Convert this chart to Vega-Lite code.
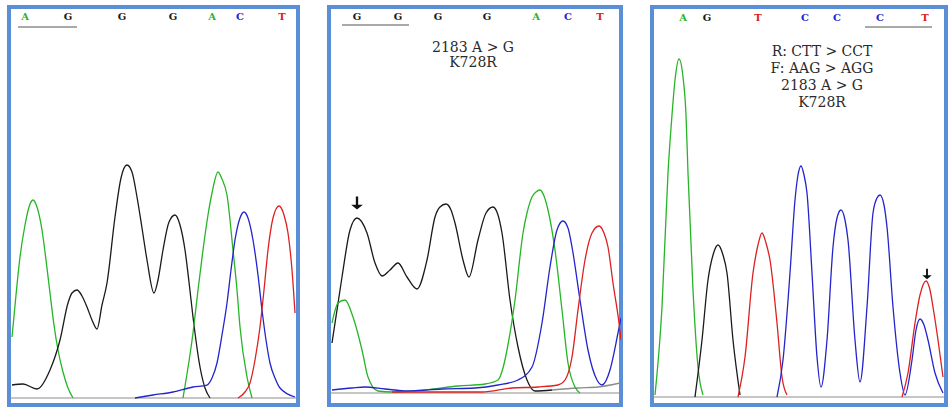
{
"$schema":"https://vega.github.io/schema/vega-lite/v6.json",
"background":"white",
"padding":{"left":6,"top":5,"right":0,"bottom":0},
"spacing":25,
"config":{"view":{"stroke":"#5a8fd8","strokeWidth":4},"concat":{"spacing":25}},
"datasets":{
"baselines":[{"panel":1,"sig":7},{"panel":2,"sig":12},{"panel":3,"sig":8}],
"traces":[
{"panel":1,"trace":"A1","base":"A","pos":3,"sig":68},{"panel":1,"trace":"A1","base":"A","pos":7,"sig":110},{"panel":1,"trace":"A1","base":"A","pos":11,"sig":148},{"panel":1,"trace":"A1","base":"A","pos":16,"sig":180},{"panel":1,"trace":"A1","base":"A","pos":20,"sig":198},{"panel":1,"trace":"A1","base":"A","pos":24,"sig":205},{"panel":1,"trace":"A1","base":"A","pos":28,"sig":198},{"panel":1,"trace":"A1","base":"A","pos":33,"sig":175},{"panel":1,"trace":"A1","base":"A","pos":37,"sig":145},{"panel":1,"trace":"A1","base":"A","pos":41,"sig":112},{"panel":1,"trace":"A1","base":"A","pos":45,"sig":80},{"panel":1,"trace":"A1","base":"A","pos":49,"sig":55},{"panel":1,"trace":"A1","base":"A","pos":54,"sig":33},{"panel":1,"trace":"A1","base":"A","pos":59,"sig":17},{"panel":1,"trace":"A1","base":"A","pos":64,"sig":7},
{"panel":1,"trace":"G1","base":"G","pos":3,"sig":20},{"panel":1,"trace":"G1","base":"G","pos":14,"sig":21},{"panel":1,"trace":"G1","base":"G","pos":28,"sig":16},{"panel":1,"trace":"G1","base":"G","pos":41,"sig":35},{"panel":1,"trace":"G1","base":"G","pos":51,"sig":65},{"panel":1,"trace":"G1","base":"G","pos":59,"sig":102},{"panel":1,"trace":"G1","base":"G","pos":63,"sig":112},{"panel":1,"trace":"G1","base":"G","pos":68,"sig":115},{"panel":1,"trace":"G1","base":"G","pos":73,"sig":109},{"panel":1,"trace":"G1","base":"G","pos":78,"sig":98},{"panel":1,"trace":"G1","base":"G","pos":83,"sig":85},{"panel":1,"trace":"G1","base":"G","pos":88,"sig":76},{"panel":1,"trace":"G1","base":"G","pos":93,"sig":100},{"panel":1,"trace":"G1","base":"G","pos":98,"sig":122},{"panel":1,"trace":"G1","base":"G","pos":106,"sig":188},{"panel":1,"trace":"G1","base":"G","pos":112,"sig":227},{"panel":1,"trace":"G1","base":"G","pos":118,"sig":240},{"panel":1,"trace":"G1","base":"G","pos":123,"sig":233},{"panel":1,"trace":"G1","base":"G","pos":128,"sig":208},{"panel":1,"trace":"G1","base":"G","pos":133,"sig":177},{"panel":1,"trace":"G1","base":"G","pos":138,"sig":145},{"panel":1,"trace":"G1","base":"G","pos":145,"sig":112},{"panel":1,"trace":"G1","base":"G","pos":149,"sig":125},{"panel":1,"trace":"G1","base":"G","pos":154,"sig":155},{"panel":1,"trace":"G1","base":"G","pos":160,"sig":183},{"panel":1,"trace":"G1","base":"G","pos":166,"sig":190},{"panel":1,"trace":"G1","base":"G","pos":171,"sig":180},{"panel":1,"trace":"G1","base":"G","pos":176,"sig":155},{"panel":1,"trace":"G1","base":"G","pos":180,"sig":123},{"panel":1,"trace":"G1","base":"G","pos":184,"sig":88},{"panel":1,"trace":"G1","base":"G","pos":191,"sig":38},{"panel":1,"trace":"G1","base":"G","pos":196,"sig":17},{"panel":1,"trace":"G1","base":"G","pos":201,"sig":7},
{"panel":1,"trace":"A2","base":"A","pos":174,"sig":7},{"panel":1,"trace":"A2","base":"A","pos":184,"sig":72},{"panel":1,"trace":"A2","base":"A","pos":189,"sig":115},{"panel":1,"trace":"A2","base":"A","pos":194,"sig":155},{"panel":1,"trace":"A2","base":"A","pos":199,"sig":190},{"panel":1,"trace":"A2","base":"A","pos":203,"sig":212},{"panel":1,"trace":"A2","base":"A","pos":209,"sig":233},{"panel":1,"trace":"A2","base":"A","pos":213,"sig":226},{"panel":1,"trace":"A2","base":"A","pos":218,"sig":210},{"panel":1,"trace":"A2","base":"A","pos":224,"sig":155},{"panel":1,"trace":"A2","base":"A","pos":228,"sig":115},{"panel":1,"trace":"A2","base":"A","pos":231,"sig":78},{"panel":1,"trace":"A2","base":"A","pos":238,"sig":28},{"panel":1,"trace":"A2","base":"A","pos":243,"sig":7},
{"panel":1,"trace":"C1","base":"C","pos":126,"sig":7},{"panel":1,"trace":"C1","base":"C","pos":144,"sig":10},{"panel":1,"trace":"C1","base":"C","pos":164,"sig":13},{"panel":1,"trace":"C1","base":"C","pos":184,"sig":18},{"panel":1,"trace":"C1","base":"C","pos":198,"sig":20},{"panel":1,"trace":"C1","base":"C","pos":203,"sig":27},{"panel":1,"trace":"C1","base":"C","pos":208,"sig":42},{"panel":1,"trace":"C1","base":"C","pos":213,"sig":70},{"panel":1,"trace":"C1","base":"C","pos":218,"sig":102},{"panel":1,"trace":"C1","base":"C","pos":222,"sig":135},{"panel":1,"trace":"C1","base":"C","pos":226,"sig":165},{"panel":1,"trace":"C1","base":"C","pos":231,"sig":187},{"panel":1,"trace":"C1","base":"C","pos":235,"sig":193},{"panel":1,"trace":"C1","base":"C","pos":239,"sig":187},{"panel":1,"trace":"C1","base":"C","pos":244,"sig":165},{"panel":1,"trace":"C1","base":"C","pos":249,"sig":130},{"panel":1,"trace":"C1","base":"C","pos":253,"sig":95},{"panel":1,"trace":"C1","base":"C","pos":257,"sig":65},{"panel":1,"trace":"C1","base":"C","pos":261,"sig":42},{"panel":1,"trace":"C1","base":"C","pos":266,"sig":27},{"panel":1,"trace":"C1","base":"C","pos":271,"sig":17},{"panel":1,"trace":"C1","base":"C","pos":286,"sig":8},
{"panel":1,"trace":"T1","base":"T","pos":229,"sig":7},{"panel":1,"trace":"T1","base":"T","pos":236,"sig":13},{"panel":1,"trace":"T1","base":"T","pos":241,"sig":22},{"panel":1,"trace":"T1","base":"T","pos":246,"sig":45},{"panel":1,"trace":"T1","base":"T","pos":251,"sig":78},{"panel":1,"trace":"T1","base":"T","pos":255,"sig":115},{"panel":1,"trace":"T1","base":"T","pos":259,"sig":155},{"panel":1,"trace":"T1","base":"T","pos":264,"sig":187},{"panel":1,"trace":"T1","base":"T","pos":270,"sig":199},{"panel":1,"trace":"T1","base":"T","pos":275,"sig":190},{"panel":1,"trace":"T1","base":"T","pos":279,"sig":172},{"panel":1,"trace":"T1","base":"T","pos":283,"sig":135},{"panel":1,"trace":"T1","base":"T","pos":286,"sig":92},
{"panel":2,"trace":"G1","base":"G","pos":3,"sig":62},{"panel":2,"trace":"G1","base":"G","pos":13,"sig":128},{"panel":2,"trace":"G1","base":"G","pos":21,"sig":175},{"panel":2,"trace":"G1","base":"G","pos":28,"sig":187},{"panel":2,"trace":"G1","base":"G","pos":38,"sig":172},{"panel":2,"trace":"G1","base":"G","pos":46,"sig":142},{"panel":2,"trace":"G1","base":"G","pos":53,"sig":129},{"panel":2,"trace":"G1","base":"G","pos":61,"sig":135},{"panel":2,"trace":"G1","base":"G","pos":69,"sig":142},{"panel":2,"trace":"G1","base":"G","pos":78,"sig":128},{"panel":2,"trace":"G1","base":"G","pos":88,"sig":116},{"panel":2,"trace":"G1","base":"G","pos":98,"sig":145},{"panel":2,"trace":"G1","base":"G","pos":106,"sig":188},{"panel":2,"trace":"G1","base":"G","pos":111,"sig":198},{"panel":2,"trace":"G1","base":"G","pos":117,"sig":201},{"panel":2,"trace":"G1","base":"G","pos":122,"sig":195},{"panel":2,"trace":"G1","base":"G","pos":126,"sig":182},{"panel":2,"trace":"G1","base":"G","pos":134,"sig":145},{"panel":2,"trace":"G1","base":"G","pos":140,"sig":128},{"panel":2,"trace":"G1","base":"G","pos":149,"sig":165},{"panel":2,"trace":"G1","base":"G","pos":157,"sig":192},{"panel":2,"trace":"G1","base":"G","pos":164,"sig":198},{"panel":2,"trace":"G1","base":"G","pos":169,"sig":190},{"panel":2,"trace":"G1","base":"G","pos":173,"sig":172},{"panel":2,"trace":"G1","base":"G","pos":181,"sig":105},{"panel":2,"trace":"G1","base":"G","pos":189,"sig":58},{"panel":2,"trace":"G1","base":"G","pos":198,"sig":25},{"panel":2,"trace":"G1","base":"G","pos":206,"sig":14},{"panel":2,"trace":"G1","base":"G","pos":223,"sig":15},
{"panel":2,"trace":"N1","base":"N","pos":223,"sig":15},{"panel":2,"trace":"N1","base":"N","pos":249,"sig":17},{"panel":2,"trace":"N1","base":"N","pos":269,"sig":18},{"panel":2,"trace":"N1","base":"N","pos":291,"sig":22},
{"panel":2,"trace":"A1","base":"A","pos":3,"sig":82},{"panel":2,"trace":"A1","base":"A","pos":9,"sig":102},{"panel":2,"trace":"A1","base":"A","pos":16,"sig":105},{"panel":2,"trace":"A1","base":"A","pos":24,"sig":88},{"panel":2,"trace":"A1","base":"A","pos":33,"sig":55},{"panel":2,"trace":"A1","base":"A","pos":39,"sig":28},{"panel":2,"trace":"A1","base":"A","pos":49,"sig":14},{"panel":2,"trace":"A1","base":"A","pos":63,"sig":13},{"panel":2,"trace":"A1","base":"A","pos":96,"sig":15},{"panel":2,"trace":"A1","base":"A","pos":129,"sig":19},{"panel":2,"trace":"A1","base":"A","pos":156,"sig":21},{"panel":2,"trace":"A1","base":"A","pos":169,"sig":25},{"panel":2,"trace":"A1","base":"A","pos":174,"sig":37},{"panel":2,"trace":"A1","base":"A","pos":178,"sig":55},{"panel":2,"trace":"A1","base":"A","pos":186,"sig":105},{"panel":2,"trace":"A1","base":"A","pos":194,"sig":172},{"panel":2,"trace":"A1","base":"A","pos":198,"sig":192},{"panel":2,"trace":"A1","base":"A","pos":203,"sig":208},{"panel":2,"trace":"A1","base":"A","pos":207,"sig":213},{"panel":2,"trace":"A1","base":"A","pos":211,"sig":215},{"panel":2,"trace":"A1","base":"A","pos":215,"sig":209},{"panel":2,"trace":"A1","base":"A","pos":219,"sig":195},{"panel":2,"trace":"A1","base":"A","pos":226,"sig":155},{"panel":2,"trace":"A1","base":"A","pos":233,"sig":95},{"panel":2,"trace":"A1","base":"A","pos":239,"sig":42},{"panel":2,"trace":"A1","base":"A","pos":246,"sig":18},{"panel":2,"trace":"A1","base":"A","pos":251,"sig":12},
{"panel":2,"trace":"C1","base":"C","pos":3,"sig":15},{"panel":2,"trace":"C1","base":"C","pos":23,"sig":17},{"panel":2,"trace":"C1","base":"C","pos":36,"sig":18},{"panel":2,"trace":"C1","base":"C","pos":56,"sig":16},{"panel":2,"trace":"C1","base":"C","pos":79,"sig":14},{"panel":2,"trace":"C1","base":"C","pos":113,"sig":16},{"panel":2,"trace":"C1","base":"C","pos":146,"sig":17},{"panel":2,"trace":"C1","base":"C","pos":169,"sig":20},{"panel":2,"trace":"C1","base":"C","pos":189,"sig":25},{"panel":2,"trace":"C1","base":"C","pos":203,"sig":38},{"panel":2,"trace":"C1","base":"C","pos":213,"sig":82},{"panel":2,"trace":"C1","base":"C","pos":221,"sig":138},{"panel":2,"trace":"C1","base":"C","pos":228,"sig":175},{"panel":2,"trace":"C1","base":"C","pos":234,"sig":184},{"panel":2,"trace":"C1","base":"C","pos":239,"sig":177},{"panel":2,"trace":"C1","base":"C","pos":243,"sig":158},{"panel":2,"trace":"C1","base":"C","pos":251,"sig":105},{"panel":2,"trace":"C1","base":"C","pos":259,"sig":55},{"panel":2,"trace":"C1","base":"C","pos":268,"sig":25},{"panel":2,"trace":"C1","base":"C","pos":273,"sig":20},{"panel":2,"trace":"C1","base":"C","pos":281,"sig":35},{"panel":2,"trace":"C1","base":"C","pos":289,"sig":72},{"panel":2,"trace":"C1","base":"C","pos":292,"sig":87},
{"panel":2,"trace":"T1","base":"T","pos":63,"sig":13},{"panel":2,"trace":"T1","base":"T","pos":116,"sig":13},{"panel":2,"trace":"T1","base":"T","pos":153,"sig":13},{"panel":2,"trace":"T1","base":"T","pos":183,"sig":17},{"panel":2,"trace":"T1","base":"T","pos":209,"sig":18},{"panel":2,"trace":"T1","base":"T","pos":229,"sig":20},{"panel":2,"trace":"T1","base":"T","pos":236,"sig":25},{"panel":2,"trace":"T1","base":"T","pos":243,"sig":48},{"panel":2,"trace":"T1","base":"T","pos":249,"sig":95},{"panel":2,"trace":"T1","base":"T","pos":256,"sig":145},{"panel":2,"trace":"T1","base":"T","pos":263,"sig":172},{"panel":2,"trace":"T1","base":"T","pos":270,"sig":179},{"panel":2,"trace":"T1","base":"T","pos":275,"sig":172},{"panel":2,"trace":"T1","base":"T","pos":279,"sig":158},{"panel":2,"trace":"T1","base":"T","pos":284,"sig":122},{"panel":2,"trace":"T1","base":"T","pos":290,"sig":82},{"panel":2,"trace":"T1","base":"T","pos":292,"sig":65},
{"panel":3,"trace":"A1","base":"A","pos":3,"sig":10},{"panel":3,"trace":"A1","base":"A","pos":10,"sig":98},{"panel":3,"trace":"A1","base":"A","pos":16,"sig":232},{"panel":3,"trace":"A1","base":"A","pos":20,"sig":290},{"panel":3,"trace":"A1","base":"A","pos":23,"sig":325},{"panel":3,"trace":"A1","base":"A","pos":27,"sig":346},{"panel":3,"trace":"A1","base":"A","pos":31,"sig":328},{"panel":3,"trace":"A1","base":"A","pos":34,"sig":290},{"panel":3,"trace":"A1","base":"A","pos":36,"sig":232},{"panel":3,"trace":"A1","base":"A","pos":41,"sig":115},{"panel":3,"trace":"A1","base":"A","pos":46,"sig":38},{"panel":3,"trace":"A1","base":"A","pos":51,"sig":10},
{"panel":3,"trace":"G1","base":"G","pos":43,"sig":8},{"panel":3,"trace":"G1","base":"G","pos":50,"sig":65},{"panel":3,"trace":"G1","base":"G","pos":56,"sig":125},{"panel":3,"trace":"G1","base":"G","pos":61,"sig":150},{"panel":3,"trace":"G1","base":"G","pos":66,"sig":160},{"panel":3,"trace":"G1","base":"G","pos":71,"sig":150},{"panel":3,"trace":"G1","base":"G","pos":75,"sig":132},{"panel":3,"trace":"G1","base":"G","pos":81,"sig":65},{"panel":3,"trace":"G1","base":"G","pos":88,"sig":10},
{"panel":3,"trace":"T1","base":"T","pos":86,"sig":8},{"panel":3,"trace":"T1","base":"T","pos":93,"sig":48},{"panel":3,"trace":"T1","base":"T","pos":101,"sig":132},{"panel":3,"trace":"T1","base":"T","pos":106,"sig":160},{"panel":3,"trace":"T1","base":"T","pos":110,"sig":172},{"panel":3,"trace":"T1","base":"T","pos":114,"sig":162},{"panel":3,"trace":"T1","base":"T","pos":118,"sig":145},{"panel":3,"trace":"T1","base":"T","pos":125,"sig":82},{"panel":3,"trace":"T1","base":"T","pos":130,"sig":28},{"panel":3,"trace":"T1","base":"T","pos":135,"sig":10},
{"panel":3,"trace":"C1","base":"C","pos":125,"sig":8},{"panel":3,"trace":"C1","base":"C","pos":131,"sig":45},{"panel":3,"trace":"C1","base":"C","pos":138,"sig":132},{"panel":3,"trace":"C1","base":"C","pos":143,"sig":205},{"panel":3,"trace":"C1","base":"C","pos":146,"sig":230},{"panel":3,"trace":"C1","base":"C","pos":149,"sig":239},{"panel":3,"trace":"C1","base":"C","pos":152,"sig":230},{"panel":3,"trace":"C1","base":"C","pos":155,"sig":212},{"panel":3,"trace":"C1","base":"C","pos":160,"sig":132},{"panel":3,"trace":"C1","base":"C","pos":165,"sig":48},{"panel":3,"trace":"C1","base":"C","pos":169,"sig":18},{"panel":3,"trace":"C1","base":"C","pos":175,"sig":65},{"panel":3,"trace":"C1","base":"C","pos":181,"sig":158},{"panel":3,"trace":"C1","base":"C","pos":185,"sig":187},{"panel":3,"trace":"C1","base":"C","pos":189,"sig":195},{"panel":3,"trace":"C1","base":"C","pos":193,"sig":185},{"panel":3,"trace":"C1","base":"C","pos":196,"sig":165},{"panel":3,"trace":"C1","base":"C","pos":203,"sig":65},{"panel":3,"trace":"C1","base":"C","pos":208,"sig":23},{"panel":3,"trace":"C1","base":"C","pos":215,"sig":98},{"panel":3,"trace":"C1","base":"C","pos":221,"sig":192},{"panel":3,"trace":"C1","base":"C","pos":225,"sig":207},{"panel":3,"trace":"C1","base":"C","pos":228,"sig":210},{"panel":3,"trace":"C1","base":"C","pos":232,"sig":200},{"panel":3,"trace":"C1","base":"C","pos":235,"sig":178},{"panel":3,"trace":"C1","base":"C","pos":241,"sig":98},{"panel":3,"trace":"C1","base":"C","pos":248,"sig":32},{"panel":3,"trace":"C1","base":"C","pos":253,"sig":10},{"panel":3,"trace":"C1","base":"C","pos":260,"sig":45},{"panel":3,"trace":"C1","base":"C","pos":264,"sig":75},{"panel":3,"trace":"C1","base":"C","pos":268,"sig":86},{"panel":3,"trace":"C1","base":"C","pos":272,"sig":80},{"panel":3,"trace":"C1","base":"C","pos":276,"sig":65},{"panel":3,"trace":"C1","base":"C","pos":283,"sig":32},{"panel":3,"trace":"C1","base":"C","pos":291,"sig":12},
{"panel":3,"trace":"T2","base":"T","pos":250,"sig":8},{"panel":3,"trace":"T2","base":"T","pos":256,"sig":32},{"panel":3,"trace":"T2","base":"T","pos":263,"sig":82},{"panel":3,"trace":"T2","base":"T","pos":268,"sig":110},{"panel":3,"trace":"T2","base":"T","pos":274,"sig":124},{"panel":3,"trace":"T2","base":"T","pos":278,"sig":115},{"panel":3,"trace":"T2","base":"T","pos":281,"sig":98},{"panel":3,"trace":"T2","base":"T","pos":286,"sig":65},{"panel":3,"trace":"T2","base":"T","pos":291,"sig":28}
],
"letters":[
{"panel":1,"base":"A","pos":16,"sig":388},{"panel":1,"base":"G","pos":59,"sig":388},{"panel":1,"base":"G","pos":113,"sig":388},{"panel":1,"base":"G","pos":164,"sig":388},{"panel":1,"base":"A","pos":203,"sig":388},{"panel":1,"base":"C","pos":231,"sig":388},{"panel":1,"base":"T","pos":273,"sig":388},
{"panel":2,"base":"G","pos":28,"sig":388},{"panel":2,"base":"G","pos":69,"sig":388},{"panel":2,"base":"G","pos":109,"sig":388},{"panel":2,"base":"G","pos":158,"sig":388},{"panel":2,"base":"A","pos":207,"sig":388},{"panel":2,"base":"C","pos":239,"sig":388},{"panel":2,"base":"T","pos":271,"sig":388},
{"panel":3,"base":"A","pos":31,"sig":387},{"panel":3,"base":"G","pos":55,"sig":387},{"panel":3,"base":"T","pos":106,"sig":387},{"panel":3,"base":"C","pos":153,"sig":387},{"panel":3,"base":"C","pos":185,"sig":387},{"panel":3,"base":"C","pos":228,"sig":387},{"panel":3,"base":"T","pos":273,"sig":387}
],
"underlines":[{"panel":1,"from":9,"to":68,"sig":378},{"panel":2,"from":13,"to":80,"sig":380},{"panel":3,"from":213,"to":280,"sig":378}],
"notes":[
{"panel":2,"pos":144,"sig":357,"text":"2183 A > G"},{"panel":2,"pos":144,"sig":342,"text":"K728R"},
{"panel":3,"pos":170,"sig":353,"text":"R: CTT > CCT"},{"panel":3,"pos":170,"sig":336,"text":"F: AAG > AGG"},{"panel":3,"pos":170,"sig":319,"text":"2183 A > G"},{"panel":3,"pos":170,"sig":302,"text":"K728R"}
],
"arrows":[{"panel":2,"pos":28,"sig":202},{"panel":3,"pos":275,"sig":131}]
},
"hconcat":[
{"width":289,"height":398,
"encoding":{"x":{"field":"pos","type":"quantitative","scale":{"domain":[0,289],"nice":false,"zero":false},"axis":null},"y":{"field":"sig","type":"quantitative","scale":{"domain":[0,398],"nice":false,"zero":false},"axis":null}},
"layer":[
{"data":{"name":"baselines"},"transform":[{"filter":"datum.panel==1"}],"mark":{"type":"rule","color":"#8c8c8c","strokeWidth":1},"encoding":{"x":null}},
{"data":{"name":"traces"},"transform":[{"filter":"datum.panel==1"}],"mark":{"type":"line","interpolate":"monotone","strokeWidth":1.3,"clip":true},"encoding":{"color":{"field":"base","type":"nominal","scale":{"domain":["A","C","G","T","N"],"range":["#26b526","#2424cc","#1a1a1a","#dd2020","#8c8c8c"]},"legend":null},"detail":{"field":"trace"}}},
{"data":{"name":"letters"},"transform":[{"filter":"datum.panel==1"}],"mark":{"type":"text","font":"DejaVu Serif","fontWeight":"bold","fontSize":10,"baseline":"middle"},"encoding":{"text":{"field":"base"},"color":{"field":"base","type":"nominal","legend":null}}},
{"data":{"name":"underlines"},"transform":[{"filter":"datum.panel==1"}],"mark":{"type":"rule","color":"#555555","strokeWidth":1.2},"encoding":{"x":{"field":"from","type":"quantitative"},"x2":{"field":"to"}}}
]},
{"width":292,"height":398,
"encoding":{"x":{"field":"pos","type":"quantitative","scale":{"domain":[0,292],"nice":false,"zero":false},"axis":null},"y":{"field":"sig","type":"quantitative","scale":{"domain":[0,398],"nice":false,"zero":false},"axis":null}},
"layer":[
{"data":{"name":"baselines"},"transform":[{"filter":"datum.panel==2"}],"mark":{"type":"rule","color":"#8c8c8c","strokeWidth":1},"encoding":{"x":null}},
{"data":{"name":"traces"},"transform":[{"filter":"datum.panel==2"}],"mark":{"type":"line","interpolate":"monotone","strokeWidth":1.3,"clip":true},"encoding":{"color":{"field":"base","type":"nominal","scale":{"domain":["A","C","G","T","N"],"range":["#26b526","#2424cc","#1a1a1a","#dd2020","#8c8c8c"]},"legend":null},"detail":{"field":"trace"}}},
{"data":{"name":"letters"},"transform":[{"filter":"datum.panel==2"}],"mark":{"type":"text","font":"DejaVu Serif","fontWeight":"bold","fontSize":10,"baseline":"middle"},"encoding":{"text":{"field":"base"},"color":{"field":"base","type":"nominal","legend":null}}},
{"data":{"name":"underlines"},"transform":[{"filter":"datum.panel==2"}],"mark":{"type":"rule","color":"#555555","strokeWidth":1.2},"encoding":{"x":{"field":"from","type":"quantitative"},"x2":{"field":"to"}}},
{"data":{"name":"notes"},"transform":[{"filter":"datum.panel==2"}],"mark":{"type":"text","font":"DejaVu Serif","fontSize":14,"baseline":"middle","color":"#2a2a2a"},"encoding":{"text":{"field":"text"}}},
{"data":{"name":"arrows"},"transform":[{"filter":"datum.panel==2"}],"mark":{"type":"point","filled":true,"color":"#111111","opacity":1,"size":169,"shape":"M-0.18,-1L0.18,-1L0.18,0.25L0.9,0.25L0,1L-0.9,0.25L-0.18,0.25Z"}}
]},
{"width":294,"height":398,
"encoding":{"x":{"field":"pos","type":"quantitative","scale":{"domain":[0,294],"nice":false,"zero":false},"axis":null},"y":{"field":"sig","type":"quantitative","scale":{"domain":[0,398],"nice":false,"zero":false},"axis":null}},
"layer":[
{"data":{"name":"baselines"},"transform":[{"filter":"datum.panel==3"}],"mark":{"type":"rule","color":"#8c8c8c","strokeWidth":1},"encoding":{"x":null}},
{"data":{"name":"traces"},"transform":[{"filter":"datum.panel==3"}],"mark":{"type":"line","interpolate":"monotone","strokeWidth":1.3,"clip":true},"encoding":{"color":{"field":"base","type":"nominal","scale":{"domain":["A","C","G","T","N"],"range":["#26b526","#2424cc","#1a1a1a","#dd2020","#8c8c8c"]},"legend":null},"detail":{"field":"trace"}}},
{"data":{"name":"letters"},"transform":[{"filter":"datum.panel==3"}],"mark":{"type":"text","font":"DejaVu Serif","fontWeight":"bold","fontSize":10,"baseline":"middle"},"encoding":{"text":{"field":"base"},"color":{"field":"base","type":"nominal","legend":null}}},
{"data":{"name":"underlines"},"transform":[{"filter":"datum.panel==3"}],"mark":{"type":"rule","color":"#555555","strokeWidth":1.2},"encoding":{"x":{"field":"from","type":"quantitative"},"x2":{"field":"to"}}},
{"data":{"name":"notes"},"transform":[{"filter":"datum.panel==3"}],"mark":{"type":"text","font":"DejaVu Serif","fontSize":14,"baseline":"middle","color":"#2a2a2a"},"encoding":{"text":{"field":"text"}}},
{"data":{"name":"arrows"},"transform":[{"filter":"datum.panel==3"}],"mark":{"type":"point","filled":true,"color":"#111111","opacity":1,"size":110,"shape":"M-0.18,-1L0.18,-1L0.18,0.25L0.9,0.25L0,1L-0.9,0.25L-0.18,0.25Z"}}
]}
]
}
